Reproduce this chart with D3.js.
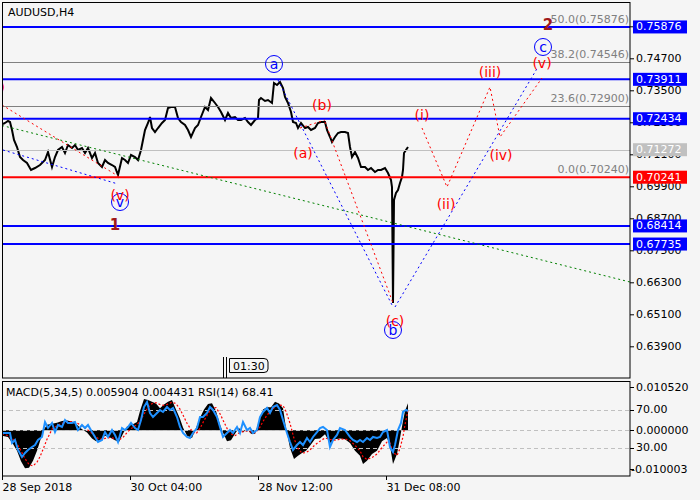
<!DOCTYPE html>
<html><head><meta charset="utf-8">
<script src="https://cdn.jsdelivr.net/npm/d3@7"></script>
<style>body{margin:0;background:#f5f5f5}svg{display:block}text{font-family:"DejaVu Sans",sans-serif}</style>
</head><body><svg id="c" width="700" height="500"></svg>
<script>
// ---------- DATA ----------
const symbol = "AUDUSD,H4";
const priceBars = [1,3,6,8,10,12,15,18,21,25,29,33,38,43,46,50,53,56,60,63,66,70,73,76,80,83,86,90,93,96,100,103,106,110,113,116,120,123,126,129,133,136,139,141,143,146,148,150,153,156,160,163,166,169,173,176,179,183,186,189,193,196,199,203,206,209,213,216,219,223,226,229,233,236,239,243,246,249,253,256,257,259,263,266,270,272,275,278,281,283,286,289,291,294,296,299,303,306,309,313,316,319,323,325,328,330,333,336,339,343,346,348,350,353,356,359,363,366,369,373,376,379,383,386,389,390,391,392,394,396,398,400,401,402,404,406];
const priceVals = [0.72236,0.72274,0.72349,0.72311,0.72011,0.71636,0.71374,0.70999,0.70886,0.70774,
0.70511,0.70586,0.70699,0.70886,0.71186,0.70624,0.70999,0.71261,0.71374,0.71149,
0.71449,0.71336,0.71449,0.71261,0.71336,0.71149,0.71336,0.70961,0.71149,0.70774,
0.70624,0.70886,0.70774,0.70699,0.70624,0.70324,0.70961,0.70886,0.70774,0.71074,
0.70999,0.70886,0.71261,0.71636,0.72011,0.72274,0.72499,0.72086,0.71936,0.72086,
0.72274,0.72386,0.72836,0.72874,0.72874,0.72461,0.72311,0.72199,0.72011,0.71749,
0.72086,0.72199,0.72499,0.72874,0.72761,0.73211,0.73024,0.72874,0.72686,0.72386,
0.72649,0.72461,0.72499,0.72386,0.72386,0.72461,0.72311,0.72199,0.72386,0.72461,
0.73136,0.73211,0.73099,0.73136,0.73024,0.73774,0.73699,0.73811,0.73586,0.73249,
0.73024,0.72686,0.72311,0.72274,0.72086,0.72274,0.72086,0.72124,0.72011,0.72086,
0.72274,0.72311,0.72311,0.72011,0.71749,0.71561,0.71749,0.71899,0.71936,0.71936,
0.71899,0.71374,0.70999,0.71186,0.70961,0.70624,0.70624,0.70511,0.70586,0.70436,
0.70511,0.70511,0.70586,0.70399,0.70136,0.69874,0.65524,0.69386,0.69649,0.69761,
0.70024,0.70249,0.70511,0.71149,0.71261,0.71374];

const blueLevels = [0.75876,0.73911,0.72434,0.68414,0.67735];
const redLevel = 0.70241;
const currentPrice = 0.71272;
const fibLevels = [0.75876,0.74546,0.72900,0.70240];
const fibNames = ["50.0","38.2","23.6","0.0"];
const priceTicks = [0.759,0.747,0.735,0.723,0.711,0.699,0.687,0.675,0.663,0.651,0.639];
const dateBars = [0,128,256,384];
const dateLabels = ["28 Sep 2018","30 Oct 04:00","28 Nov 12:00","31 Dec 08:00"];

// wave projection lines: [bar, price]
const redDash1 = [[0,0.72949],[116,0.70286]];
const redDashAB = [[298,0.72086],[323,0.72386]];
const redDashBC = [[323,0.72311],[391,0.65524]];
const redWave = [[420,0.72086],[445,0.69874],[488,0.73624],[498,0.71749],[540,0.73961]];
const blueDash1 = [[1,0.71261],[116,0.69986]];
const blueDashAB = [[276,0.73886],[391,0.65374]];
const blueDashBC = [[393,0.65374],[536,0.74374]];
const greenDash = [[0,0.72179],[628,0.66311]];

const redLabels = [
  {t:"(i)",b:420,p:0.72574},{t:"(ii)",b:444,p:0.69236},{t:"(iii)",b:488,p:0.74186},
  {t:"(iv)",b:499,p:0.71074},{t:"(v)",b:540,p:0.74524},{t:"(a)",b:301,p:0.71149},
  {t:"(b)",b:320,p:0.72949},{t:"(c)",b:393,p:0.64849},{t:"(v)",b:118,p:0.69574},
  {t:"(iii)",b:3,p:0.73624,end:true}];
const circleLabels = [{t:"a",b:272,p:0.74486},{t:"c",b:541,p:0.75124},{t:"v",b:118,p:0.69311},{t:"b",b:391,p:0.64511}];
const degreeLabels = [{t:"2",b:546,p:0.75949},{t:"1",b:113,p:0.68449}];

// MACD histogram & signal
const macdBars = [0,6,11,15,19,23,27,31,35,38,41,45,50,55,60,65,70,75,80,85,90,94,98,103,108,113,117,121,125,130,135,138,142,146,150,154,158,162,166,170,174,178,181,185,190,194,198,202,206,210,214,218,221,225,229,233,237,241,245,249,253,257,261,265,269,273,277,281,284,288,292,296,300,304,308,313,318,323,328,333,338,343,348,353,358,361,365,370,375,380,385,388,391,395,398,401,403,406];
const macdVals = [-0.0012,-0.0015,-0.0030,-0.0045,-0.0068,-0.0083,-0.0082,-0.0067,-0.0045,-0.0024,
-0.0002,0.0012,0.0014,0.0016,0.0020,0.0021,0.0019,0.0012,0.0002,-0.0005,
-0.0018,-0.0024,-0.0022,-0.0012,-0.0016,-0.0022,-0.0026,-0.0008,0.0008,0.0012,
0.0018,0.0042,0.0068,0.0066,0.0062,0.0058,0.0048,0.0056,0.0062,0.0066,
0.0045,0.0025,0.0006,-0.0012,-0.0017,0.0005,0.0027,0.0045,0.0057,0.0059,
0.0042,0.0012,-0.0005,-0.0024,-0.0022,-0.0008,0.0005,-0.0005,0.0003,-0.0008,
-0.0008,0.0020,0.0045,0.0050,0.0050,0.0062,0.0058,0.0048,0.0005,-0.0039,
-0.0063,-0.0056,-0.0050,-0.0045,-0.0034,-0.0019,-0.0018,-0.0009,-0.0028,-0.0020,
-0.0018,-0.0020,-0.0028,-0.0045,-0.0056,-0.0074,-0.0067,-0.0052,-0.0045,-0.0024,
-0.0017,-0.0034,-0.0074,-0.0052,-0.0017,0.0020,0.0042,0.0059];
const signalVals = [-0.0008,-0.0012,-0.0020,-0.0030,-0.0045,-0.0062,-0.0075,-0.0078,-0.0070,-0.0058,
-0.0042,-0.0020,0.0002,0.0010,0.0015,0.0018,0.0019,0.0016,0.0009,0.0002,
-0.0007,-0.0015,-0.0020,-0.0018,-0.0016,-0.0018,-0.0021,-0.0016,-0.0005,0.0005,
0.0012,0.0020,0.0035,0.0050,0.0058,0.0060,0.0056,0.0054,0.0057,0.0061,
0.0058,0.0046,0.0033,0.0015,-0.0002,-0.0008,0.0004,0.0021,0.0036,0.0048,
0.0049,0.0036,0.0022,0.0004,-0.0008,-0.0012,-0.0006,-0.0003,-0.0002,-0.0004,
-0.0006,0.0003,0.0019,0.0033,0.0042,0.0051,0.0055,0.0054,0.0041,0.0015,
-0.0018,-0.0040,-0.0050,-0.0049,-0.0043,-0.0032,-0.0024,-0.0017,-0.0020,-0.0022,
-0.0020,-0.0019,-0.0023,-0.0033,-0.0045,-0.0058,-0.0064,-0.0060,-0.0052,-0.0038,
-0.0026,-0.0028,-0.0048,-0.0055,-0.0040,-0.0014,0.0012,0.0044];
const macdMax = 0.010520, macdMin = -0.010003;

// RSI(14)
const rsiBars = [1,8,10,13,16,20,23,26,30,33,36,40,43,46,50,53,56,60,63,66,70,73,76,80,83,86,90,93,96,100,103,106,110,113,116,120,123,126,129,133,136,139,142,145,148,151,155,158,161,165,168,171,175,178,181,185,188,191,195,198,201,205,208,211,215,218,221,225,228,231,235,238,241,245,248,251,255,258,261,265,268,271,275,278,281,285,288,291,295,298,301,305,308,311,315,318,321,325,328,331,335,338,343,348,351,355,358,361,365,368,371,375,378,381,385,388,391,393,396,399,401,404,406];
const rsiVals = [45.3,45.3,34.7,37.9,27.4,20.0,24.2,27.4,30.5,32.6,
37.9,41.1,56.8,50.5,55.8,46.3,53.7,51.6,58.9,55.8,
55.8,56.8,48.4,53.7,50.5,53.7,46.3,41.1,35.8,37.9,
46.3,41.1,48.4,43.2,35.8,50.5,48.4,51.6,55.8,50.5,
48.4,58.9,72.6,77.9,66.3,62.1,66.3,69.5,67.4,72.6,
69.5,71.6,62.1,51.6,45.3,41.1,40.0,45.3,50.5,62.1,
62.1,66.3,72.6,69.5,62.1,51.6,41.1,45.3,48.4,45.3,
51.6,45.3,56.8,48.4,50.5,45.3,48.4,62.1,67.4,71.6,
66.3,72.6,74.7,69.5,58.9,45.3,35.8,27.4,32.6,35.8,
32.6,40.0,35.8,41.1,46.3,50.5,51.6,48.4,30.5,37.9,
43.2,50.5,48.4,41.1,37.9,35.8,37.9,35.8,40.0,37.9,
41.1,40.0,41.1,46.3,48.4,30.5,25.3,32.6,48.4,55.8,
67.4,69.5,68.41];
const indicatorTitle = "MACD(5,34,5) 0.005904 0.004431 RSI(14) 68.41";

// ---------- DRAW ----------
const svg = d3.select('#c');
svg.append('rect').attr('width',700).attr('height',500).attr('fill','#f5f5f5');
const defs = svg.append('defs');
defs.append('clipPath').attr('id','mc').append('rect').attr('x',2).attr('y',2).attr('width',628).attr('height',376);
defs.append('clipPath').attr('id','ic').append('rect').attr('x',2).attr('y',381).attr('width',628).attr('height',95);

const x = d3.scaleLinear().domain([0,628]).range([2,630]);
const y = d3.scaleLinear().domain([0.639,0.759]).range([346.3,26.3]);
const line = d3.line().x(d=>x(d[0])).y(d=>y(d[1]));

const main = svg.append('g').attr('clip-path','url(#mc)');

// price
main.append('path').datum(priceBars.map((b,i)=>[b,priceVals[i]]))
  .attr('d',line).attr('fill','none').attr('stroke','#000').attr('stroke-width',2).attr('stroke-linejoin','miter');

// fib lines
fibLevels.forEach(v=>{
  main.append('line').attr('x1',2).attr('x2',630).attr('y1',Math.round(y(v))+0.5).attr('y2',Math.round(y(v))+0.5)
    .attr('stroke','#808080').attr('stroke-width',1);
});
main.append('line').attr('x1',2).attr('x2',630).attr('y1',Math.round(y(currentPrice))+0.5).attr('y2',Math.round(y(currentPrice))+0.5)
  .attr('stroke','#c0c0c0').attr('stroke-width',1);
blueLevels.forEach(v=>{
  main.append('line').attr('x1',2).attr('x2',630).attr('y1',y(v)).attr('y2',y(v)).attr('stroke','#0000ff').attr('stroke-width',2);
});
main.append('line').attr('x1',2).attr('x2',630).attr('y1',y(redLevel)).attr('y2',y(redLevel)).attr('stroke','#ff0000').attr('stroke-width',2);

// dashed projections
const dashed = [[greenDash,'#008000'],[redDash1,'#ff0000'],[redDashAB,'#ff0000'],[redDashBC,'#ff0000'],[redWave,'#ff0000'],
  [blueDash1,'#0000ff'],[blueDashAB,'#0000ff'],[blueDashBC,'#0000ff']];
dashed.forEach(([pts,col])=>{
  main.append('path').datum(pts).attr('d',line).attr('fill','none').attr('stroke',col)
    .attr('stroke-width',1).attr('stroke-dasharray','2,3');
});

// fib texts
fibLevels.forEach((v,i)=>{
  main.append('text').attr('x',629).attr('y',y(v)-4).attr('text-anchor','end')
    .attr('font-size',11).attr('fill','#808080').text(fibNames[i]+"("+v.toFixed(5)+")");
});

// wave labels
circleLabels.forEach(d=>{
  main.append('circle').attr('cx',x(d.b)).attr('cy',y(d.p)).attr('r',8.5).attr('fill','none').attr('stroke','#0000ff').attr('stroke-width',1);
  main.append('text').attr('x',x(d.b)).attr('y',y(d.p)).attr('text-anchor','middle').attr('dominant-baseline','central')
    .attr('font-size',14).attr('fill','#0000ff').text(d.t);
});
redLabels.forEach(d=>{
  main.append('text').attr('x',x(d.b)).attr('y',y(d.p)).attr('text-anchor',d.end?'end':'middle').attr('dominant-baseline','central')
    .attr('font-size',14).attr('fill','#ff0000').text(d.t);
});
degreeLabels.forEach(d=>{
  main.append('text').attr('x',x(d.b)).attr('y',y(d.p)).attr('text-anchor','middle').attr('dominant-baseline','central')
    .attr('font-size',15).attr('font-weight','bold').attr('fill','#a01818').text(d.t);
});

// symbol title
svg.append('text').attr('x',8).attr('y',16).attr('font-size',11).attr('fill','#000').text(symbol);

// main border
svg.append('rect').attr('x',2.5).attr('y',2.5).attr('width',627.5).attr('height',375.5).attr('fill','none').attr('stroke','#000');

// right price axis
const ay = svg.append('g').attr('transform','translate(630,0)')
  .call(d3.axisRight(y).tickValues(priceTicks).tickFormat(d3.format('.5f')).tickSize(4).tickSizeOuter(0));
ay.select('.domain').remove();
ay.selectAll('text').attr('font-size',11).attr('font-family','DejaVu Sans').attr('fill','#000').attr('x',6);
ay.selectAll('line').attr('stroke','#000');

// price boxes
const boxes = blueLevels.map(v=>[v,'#0000ff']).concat([[currentPrice,'#c0c0c0'],[redLevel,'#ff0000']]);
boxes.forEach(([v,col])=>{
  svg.append('rect').attr('x',633).attr('y',y(v)-6.5).attr('width',54).attr('height',13).attr('fill',col);
  svg.append('text').attr('x',636).attr('y',y(v)).attr('dominant-baseline','central').attr('font-size',11)
    .attr('fill','#fff').text(v.toFixed(5));
});

// time cursor box
svg.append('line').attr('x1',223.5).attr('x2',223.5).attr('y1',357).attr('y2',378).attr('stroke','#000');
svg.append('line').attr('x1',226.5).attr('x2',226.5).attr('y1',357).attr('y2',378).attr('stroke','#000');
svg.append('path').attr('d','M229.5,358.5 H264 Q268,358.5 268,362 V369 Q268,372.5 264,372.5 H229.5 Z')
  .attr('fill','#f5f5f5').attr('stroke','#000');
svg.append('text').attr('x',233).attr('y',369.5).attr('font-size',11).attr('fill','#000').text('01:30');

// ---------- indicator panel ----------
const my = d3.scaleLinear().domain([macdMin,macdMax]).range([476,382]);
const ry = d3.scaleLinear().domain([0,100]).range([476,381]);
const ind = svg.append('g').attr('clip-path','url(#ic)');

ind.append('path').datum(macdBars.map((b,i)=>[b,macdVals[i]]))
  .attr('d',d3.area().x(d=>x(d[0])).y0(my(0)).y1(d=>my(d[1]))).attr('fill','#000');
[ry(70),my(0),ry(30)].forEach(yy=>{
  ind.append('line').attr('x1',2).attr('x2',630).attr('y1',Math.round(yy)+0.5).attr('y2',Math.round(yy)+0.5)
    .attr('stroke','#c0c0c0').attr('stroke-dasharray','4,3');
});
ind.append('path').datum(macdBars.map((b,i)=>[b,signalVals[i]]))
  .attr('d',d3.line().x(d=>x(d[0])).y(d=>my(d[1]))).attr('fill','none').attr('stroke','#ff0000')
  .attr('stroke-width',1.2).attr('stroke-dasharray','2,2');
ind.append('path').datum(rsiBars.map((b,i)=>[b,rsiVals[i]]))
  .attr('d',d3.line().x(d=>x(d[0])).y(d=>ry(d[1]))).attr('fill','none').attr('stroke','#1e90ff').attr('stroke-width',2);

svg.append('rect').attr('x',2.5).attr('y',381.5).attr('width',627.5).attr('height',94.5).attr('fill','none').attr('stroke','#000');
svg.append('text').attr('x',6).attr('y',396).attr('font-size',11).attr('fill','#000').text(indicatorTitle);

const indLabels = [[my(macdMax)+5,macdMax.toFixed(6)],[ry(70),'70.00'],[my(0),'0.000000'],[ry(30),'30.00'],[my(macdMin)-7,macdMin.toFixed(6)]];
indLabels.forEach(([yy,t])=>{
  svg.append('line').attr('x1',630).attr('x2',634).attr('y1',Math.round(yy)+0.5).attr('y2',Math.round(yy)+0.5).attr('stroke','#000');
  svg.append('text').attr('x',t.startsWith('-')?631:636).attr('y',yy).attr('dominant-baseline','central')
    .attr('font-size',11).attr('fill','#000').text(t);
});

// bottom time axis
const ax = svg.append('g').attr('transform','translate(0,476)')
  .call(d3.axisBottom(x).tickValues(dateBars).tickFormat((d,i)=>dateLabels[i]).tickSize(4).tickSizeOuter(0));
ax.select('.domain').remove();
ax.selectAll('text').attr('text-anchor','start').attr('font-size',11).attr('font-family','DejaVu Sans').attr('fill','#000');
ax.selectAll('line').attr('stroke','#000');
</script>
</body></html>
